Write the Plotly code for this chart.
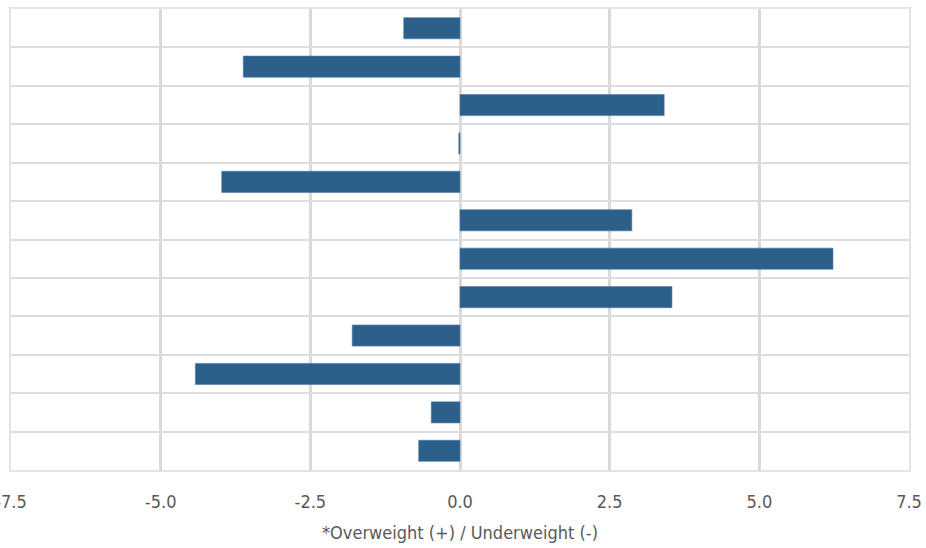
import plotly.graph_objects as go

categories = [f"Category {i}" for i in range(1, 13)]
values = [-0.94, -3.62, 3.41, -0.02, -3.98, 2.87, 6.23, 3.54, -1.80, -4.42, -0.48, -0.69]
x_ticks = [-7.5, -5.0, -2.5, 0.0, 2.5, 5.0, 7.5]
x_tick_labels = ["-7.5", "-5.0", "-2.5", "0.0", "2.5", "5.0", "7.5"]
x_title = "*Overweight (+) / Underweight (-)"

FONT = "Liberation Sans Narrow, DejaVu Sans Condensed, Roboto, sans-serif"

fig = go.Figure(
    go.Bar(
        x=values,
        y=categories,
        orientation="h",
        marker=dict(color="#2d5f8b", line=dict(color="#4a78a3", width=0.6)),
        width=0.55,
    )
)

fig.update_layout(
    width=926,
    height=548,
    margin=dict(l=11, r=17, t=9, b=78),
    paper_bgcolor="white",
    plot_bgcolor="white",
    showlegend=False,
    font=dict(family=FONT, color="#595959", size=18),
    xaxis=dict(
        range=[-7.5, 7.5],
        tickvals=x_ticks,
        ticktext=x_tick_labels,
        showgrid=True,
        gridcolor="#d9d9d9",
        gridwidth=3,
        zeroline=False,
        showline=True,
        linecolor="#e3e3e3",
        linewidth=2,
        mirror=True,
        ticks="",
        automargin=False,
        ticklabeloverflow="allow",
        ticklabelstandoff=14,
        tickfont=dict(family=FONT, size=18, color="#595959"),
        title=dict(text=x_title, font=dict(family=FONT, size=18, color="#595959"), standoff=16),
    ),
    yaxis=dict(
        autorange="reversed",
        type="category",
        tickson="boundaries",
        showgrid=True,
        gridcolor="#dcdcdc",
        gridwidth=2,
        showticklabels=False,
        ticks="",
        showline=True,
        linecolor="#e3e3e3",
        linewidth=2,
        mirror=True,
        zeroline=False,
        automargin=False,
    ),
)

fig.write_html(
    "out.html",
    config={"displayModeBar": False},
    post_script="document.body.style.margin='0';",
)
